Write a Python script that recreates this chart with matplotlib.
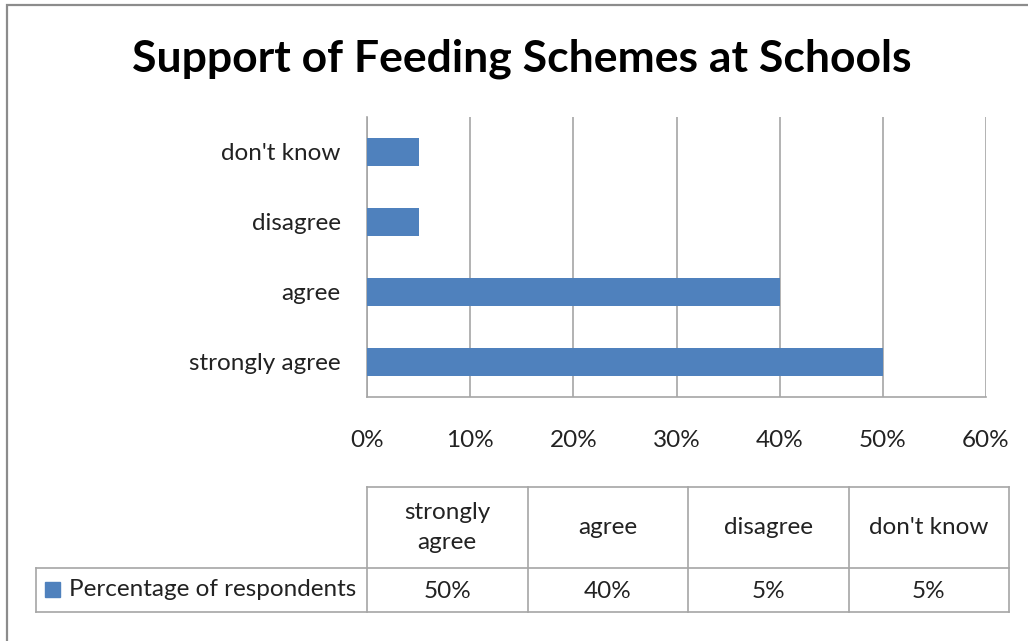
import matplotlib
matplotlib.use("Agg")
import matplotlib.pyplot as plt
from matplotlib.patches import Rectangle
import numpy as np

# ── Données ───────────────────────────────────────────────────────────────────
categories = ["strongly agree", "agree", "disagree", "don't know"]
table_heads = ["strongly\nagree", "agree", "disagree", "don't know"]
values = [0.50, 0.40, 0.05, 0.05]
series_name = "Percentage of respondents"
x_ticks = [0.0, 0.1, 0.2, 0.3, 0.4, 0.5, 0.6]
title = "Support of Feeding Schemes at Schools"

BAR = "#4F81BD"
GRID = "#A6A6A6"
TXT = "#222222"
FS = 17.5
FONT = ["Lato", "DejaVu Sans"]
W, H = 1028, 641

plt.rcParams["font.family"] = FONT
fig = plt.figure(figsize=(W / 100, H / 100), dpi=100)

# cadre extérieur (coupé à droite et en bas)
fig.patches.append(Rectangle((7 / W, -0.1), 1.2, (H - 5) / H + 0.1,
                             transform=fig.transFigure, fill=False,
                             edgecolor="#8C8C8C", lw=1.6, clip_on=False))

fig.text(522 / W, 1 - 59 / H, title, ha="center", va="center",
         fontsize=32, fontweight="bold")

# ── Graphe en barres ──────────────────────────────────────────────────────────
ax = fig.add_axes([367 / W, 1 - 397 / H, (986 - 367) / W, (397 - 117) / H])
y = np.arange(len(categories))
ax.barh(y, values, height=0.4, color=BAR, zorder=3)
ax.set_xlim(0, 0.6)
ax.set_ylim(-0.5, len(categories) - 0.5)
ax.set_xticks(x_ticks)
ax.set_xticklabels([f"{v:.0%}" for v in x_ticks], fontsize=FS, color=TXT)
ax.set_yticks(y)
ax.set_yticklabels(categories, fontsize=FS, color=TXT)
ax.tick_params(length=0)
ax.tick_params(axis="x", pad=24)
ax.tick_params(axis="y", pad=19)
ax.xaxis.grid(True, color=GRID, lw=1.2, zorder=0)
for s in ["top", "right"]:
    ax.spines[s].set_visible(False)
for s in ["left", "bottom"]:
    ax.spines[s].set_color(GRID)
    ax.spines[s].set_linewidth(1.2)

# ── Tableau de données ────────────────────────────────────────────────────────
tx0, tx1, ty0, ty1 = 36, 1009, 487, 612
tab = fig.add_axes([tx0 / W, 1 - ty1 / H, (tx1 - tx0) / W, (ty1 - ty0) / H])
tab.set_xlim(tx0, tx1)
tab.set_ylim(ty1, ty0)
tab.axis("off")
col_x = np.linspace(367, 1009, len(categories) + 1)
row_mid = 568
lk = dict(color=GRID, lw=1.2, clip_on=False)
for cx in col_x:
    tab.plot([cx, cx], [ty0, ty1], **lk)
tab.plot([367, 1009], [ty0, ty0], **lk)
tab.plot([tx0, 1009], [row_mid, row_mid], **lk)
tab.plot([tx0, 1009], [ty1, ty1], **lk)
tab.plot([tx0, tx0], [row_mid, ty1], **lk)
for i, (head, v) in enumerate(zip(table_heads, values)):
    cx = (col_x[i] + col_x[i + 1]) / 2
    tab.text(cx, (ty0 + row_mid) / 2, head, ha="center", va="center",
             fontsize=FS, color=TXT, linespacing=1.5)
    tab.text(cx, (row_mid + ty1) / 2 + 1, f"{v:.0%}", ha="center", va="center",
             fontsize=FS, color=TXT)
tab.add_patch(Rectangle((45, 582), 15, 15, color=BAR, clip_on=False))
tab.text(69, (row_mid + ty1) / 2, series_name, ha="left", va="center",
         fontsize=FS, color=TXT)

fig.savefig("out.png", dpi=100)
